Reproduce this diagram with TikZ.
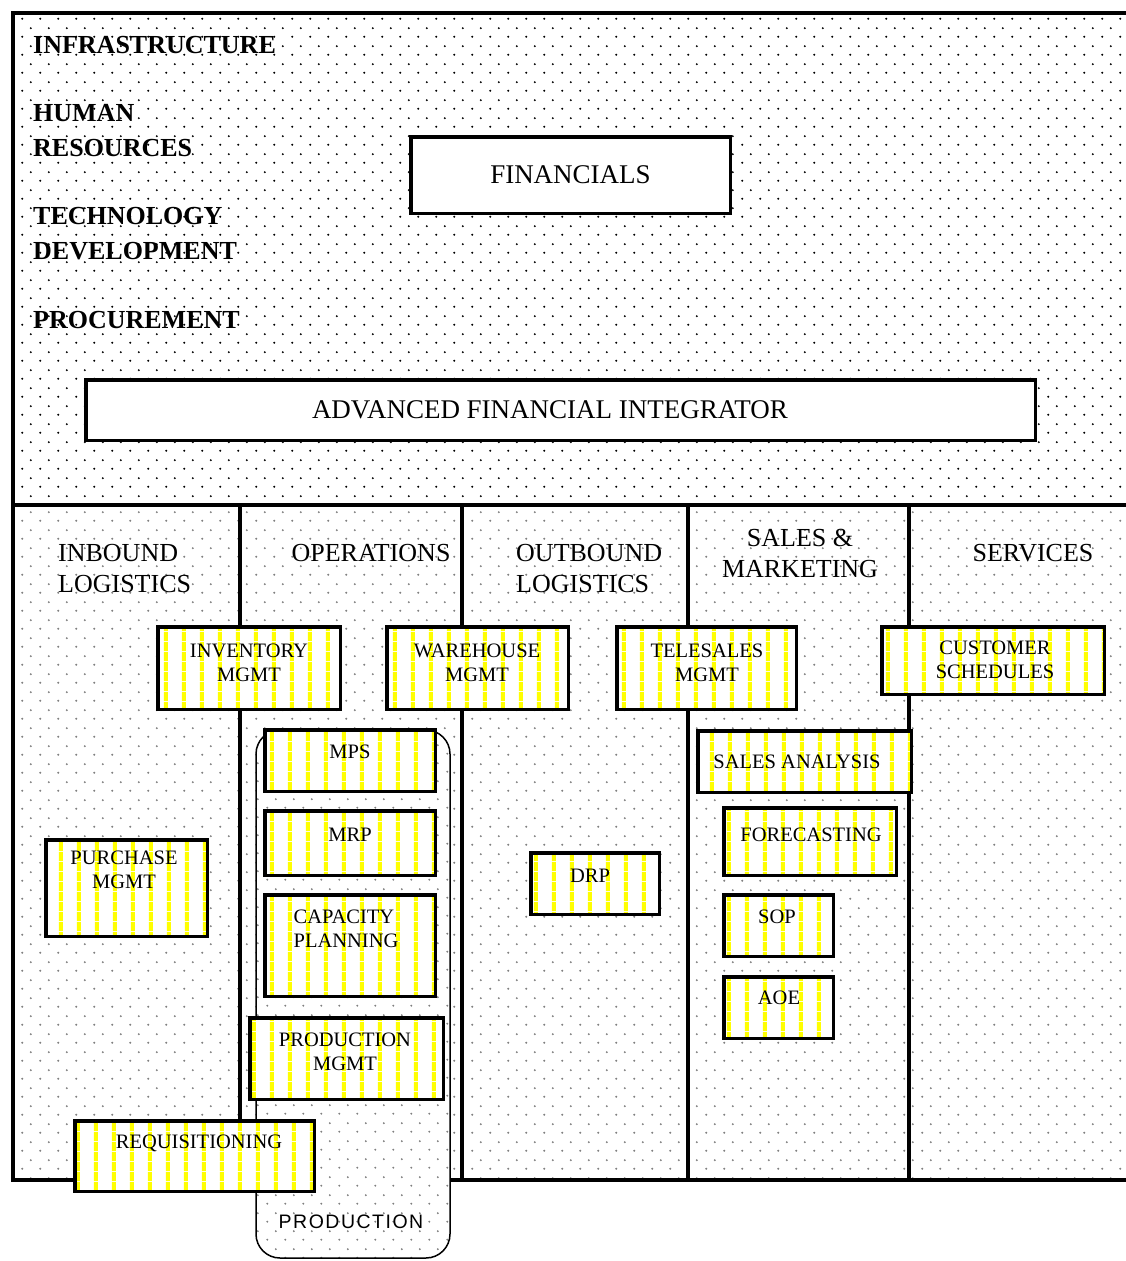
\documentclass[tikz,border=0pt]{standalone}
\usepackage{fontspec}
\setmainfont{Liberation Serif}
\newfontfamily\sansf{Liberation Sans}
\usetikzlibrary{patterns}

% staggered dot screen
\pgfdeclarepatternformonly{dotgrid}{\pgfpointorigin}{\pgfpoint{17.5pt}{17.5pt}}{\pgfpoint{17.5pt}{17.5pt}}{%
  \pgfpathcircle{\pgfpoint{4.4pt}{4.4pt}}{1.1pt}%
  \pgfpathcircle{\pgfpoint{13.15pt}{13.15pt}}{1.1pt}%
  \pgfusepath{fill}}
% vertical stripes for the module boxes
\pgfdeclarepatternformonly{vstripes}{\pgfpointorigin}{\pgfpoint{17.6pt}{10pt}}{\pgfpoint{17.6pt}{10pt}}{%
  \pgfpathrectangle{\pgfpoint{6pt}{0pt}}{\pgfpoint{4pt}{10pt}}\pgfusepath{fill}}

\tikzset{
  frameline/.style={line width=3.5pt},
  plainbox/.style={draw, line width=3.5pt, fill=white, inner sep=0pt},
  ybox/.style={draw, line width=3.5pt, preaction={fill=white}, pattern=vstripes, pattern color=yellow, inner sep=0pt},
  blabel/.style={font=\fontsize{20.5}{24}\selectfont, align=center, inner sep=0pt},
  bigtext/.style={font=\fontsize{27}{32}\selectfont, inner sep=0pt},
  colhead/.style={font=\fontsize{26}{31}\selectfont, inner sep=0pt},
  sidehead/.style={font=\fontsize{26}{35}\selectfont\bfseries, align=left, anchor=west, inner sep=0pt},
}

% box from outer corners (x1,y1)-(x2,y2)
\newcommand\cellbox[6]{%
  \node[#6, minimum width={#4-#2-3.5}, minimum height={#5-#3-3.5}] (#1) at ({(#2+#4)/2},{(#3+#5)/2}) {};}

\begin{document}
\begin{tikzpicture}[x=1pt, y=-1pt]
\useasboundingbox (0,0) rectangle (1126,1261);
\clip (0,0) rectangle (1126,1261);
\fill[white] (0,0) rectangle (1126,1261);

% dotted backgrounds
\fill[pattern=dotgrid, pattern color=black] (12,13) rectangle (1140,505);
\fill[pattern=dotgrid, pattern color=black!50] (12,505) rectangle (1140,1180);

% frame and column dividers
\draw[frameline] (1140,13) -- (13,13) -- (13,1180) -- (1140,1180);
\draw[frameline] (13,505) -- (1140,505);
\coordinate (c1t) at (240,505); \coordinate (c1b) at (240,1180);
\coordinate (c2t) at (462,505); \coordinate (c2b) at (462,1180);
\coordinate (c3t) at (688,505); \coordinate (c3b) at (688,1180);
\coordinate (c4t) at (909,505); \coordinate (c4b) at (909,1180);
\draw[frameline] (c1t) -- (c1b);
\draw[frameline] (c2t) -- (c2b);
\draw[frameline] (c3t) -- (c3b);
\draw[frameline] (c4t) -- (c4b);

% production group
\draw[line width=1.5pt, rounded corners=24pt, preaction={fill=white}, pattern=dotgrid, pattern color=black!50]
  (256,730) rectangle (450,1258);
\node[font=\sansf\fontsize{19.5}{22}\selectfont, inner sep=0pt] (prodlbl) at (351,1222) {P\kern1.5pt R\kern1.5pt O\kern1.5pt D\kern1.5pt U\kern1.5pt C\kern1.5pt T\kern1.5pt I\kern1.5pt O\kern1.5pt N};

% support activities
\node[sidehead] (infra) at (33,45) {INFRASTRUCTURE};
\node[sidehead] (hr) at (33,130.5) {HUMAN\\RESOURCES};
\node[sidehead] (tech) at (33,234) {TECHNOLOGY\\DEVELOPMENT};
\node[sidehead] (proc) at (33,320) {PROCUREMENT};

\cellbox{fin}{409}{135}{732}{215}{plainbox}
\node[bigtext] (fin-t) at (fin) {FINANCIALS};
\cellbox{afi}{84}{378}{1037}{442}{plainbox}
\node[bigtext] (afi-t) at (550,410) {ADVANCED FINANCIAL INTEGRATOR};

% primary activities
\node[colhead, anchor=west, align=left] (inb) at (58,568.5) {INBOUND\\LOGISTICS};
\node[colhead] (ops) at (371,553) {OPERATIONS};
\node[colhead, anchor=west, align=left] (outb) at (516,568.5) {OUTBOUND\\LOGISTICS};
\node[colhead, align=center] (sm) at (800,553) {SALES \&\\MARKETING};
\node[colhead] (serv) at (1033,553) {SERVICES};

% modules
\cellbox{inv}{156}{625}{342}{711}{ybox}
\node[blabel] (inv-t) at (249,663) {INVENTORY\\MGMT};
\cellbox{wh}{385}{625}{570}{711}{ybox}
\node[blabel] (wh-t) at (477,663) {WAREHOUSE\\MGMT};
\cellbox{tel}{615}{625}{798}{711}{ybox}
\node[blabel] (tel-t) at (707,663) {TELESALES\\MGMT};
\cellbox{cust}{880}{625}{1106}{696}{ybox}
\node[blabel] (cust-t) at (995,660) {CUSTOMER\\SCHEDULES};

\cellbox{mps}{263}{728}{437}{793}{ybox}
\node[blabel] (mps-t) at (350,752) {MPS};
\cellbox{mrp}{263}{809}{437}{877}{ybox}
\node[blabel] (mrp-t) at (350,835) {MRP};
\cellbox{cap}{263}{893}{437}{998}{ybox}
\node[blabel, align=left] (cap-t) at (346,929) {CAPACITY\\PLANNING};
\cellbox{pm}{248}{1016}{445}{1101}{ybox}
\node[blabel] (pm-t) at (345,1052) {PRODUCTION\\MGMT};
\cellbox{req}{73}{1119}{316}{1193}{ybox}
\node[blabel] (req-t) at (199,1143) {REQUISITIONING};
\cellbox{pur}{44}{838}{209}{938}{ybox}
\node[blabel] (pur-t) at (124,870) {PURCHASE\\MGMT};
\cellbox{drp}{529}{851}{661}{916}{ybox}
\node[blabel] (drp-t) at (590,876) {DRP};

\cellbox{sa}{696}{729}{913}{794}{ybox}
\node[blabel] (sa-t) at (797,762) {SALES ANALYSIS};
\cellbox{fc}{722}{806}{898}{877}{ybox}
\node[blabel] (fc-t) at (811,835) {FORECASTING};
\cellbox{sop}{722}{893}{835}{958}{ybox}
\node[blabel] (sop-t) at (777,917) {SOP};
\cellbox{aoe}{722}{975}{835}{1040}{ybox}
\node[blabel] (aoe-t) at (779,998) {AOE};
\end{tikzpicture}
\end{document}
